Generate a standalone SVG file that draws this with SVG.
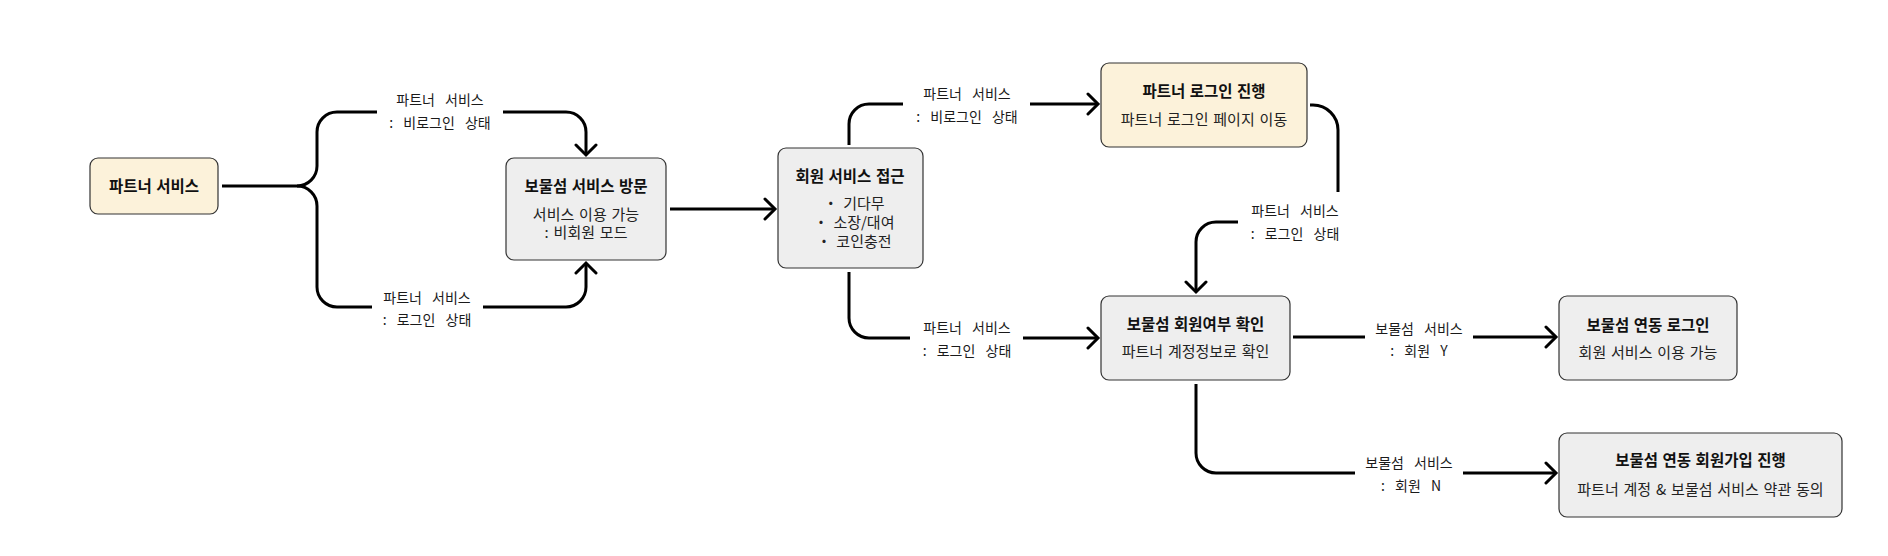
<svg xmlns="http://www.w3.org/2000/svg" width="1888" height="556" viewBox="0 0 1888 556">
<style>
.box{stroke:#333;stroke-width:1.2}
.cream{fill:#FCF2DA}
.grey{fill:#EEEEEE}
.t{font-family:"Noto Sans CJK KR","Noto Sans",sans-serif;font-size:15.5px;font-weight:bold;fill:#111;text-anchor:middle;word-spacing:1px}
.s{font-family:"Noto Sans CJK KR","Noto Sans",sans-serif;font-size:15px;fill:#222;text-anchor:middle;word-spacing:1.5px}
.l{font-family:"Noto Sans CJK KR","Noto Sans",sans-serif;font-size:14px;fill:#1a1a1a;text-anchor:middle;word-spacing:7px}
.c{fill:none;stroke:#000;stroke-width:3}
</style>
<defs>
<marker id="ah" markerUnits="userSpaceOnUse" markerWidth="16" markerHeight="24" viewBox="0 0 16 24" refX="12" refY="12" orient="auto">
<path d="M2,2 L12,12 L2,22" fill="none" stroke="#000" stroke-width="3" stroke-linecap="round" stroke-linejoin="miter"/>
</marker>
</defs>
<rect width="1888" height="556" fill="#fff"/>

<g id="connectors">
<path class="c" d="M222,186 H297 A20,20 0 0 0 317,166 V132 A20,20 0 0 1 337,112 H377"/>
<path class="c" d="M297,186 A20,20 0 0 1 317,206 V287 A20,20 0 0 0 337,307 H372"/>
<path class="c" marker-end="url(#ah)" d="M503,112 H566 A20,20 0 0 1 586,132 V155"/>
<path class="c" marker-end="url(#ah)" d="M483,307 H566 A20,20 0 0 0 586,287 V263"/>
<path class="c" marker-end="url(#ah)" d="M670,209 H775"/>
<path class="c" d="M849,145 V124 A20,20 0 0 1 869,104 H903"/>
<path class="c" marker-end="url(#ah)" d="M1030,104 H1098"/>
<path class="c" d="M1310,105 H1313 A25,25 0 0 1 1338,130 V192"/>
<path class="c" marker-end="url(#ah)" d="M1238,222 H1216 A20,20 0 0 0 1196,242 V292"/>
<path class="c" d="M849,272 V318 A20,20 0 0 0 869,338 H910"/>
<path class="c" marker-end="url(#ah)" d="M1023,338 H1098"/>
<path class="c" d="M1293,337 H1365"/>
<path class="c" marker-end="url(#ah)" d="M1473,337 H1556"/>
<path class="c" d="M1196,384 V453 A20,20 0 0 0 1216,473 H1355"/>
<path class="c" marker-end="url(#ah)" d="M1463,473 H1556"/>
<g id="labels">
<text class="l" x="440" y="105">파트너 서비스</text>
<text class="l" x="440" y="128">: 비로그인 상태</text>
<text class="l" x="427" y="303">파트너 서비스</text>
<text class="l" x="427" y="325">: 로그인 상태</text>
<text class="l" x="967" y="99">파트너 서비스</text>
<text class="l" x="967" y="122">: 비로그인 상태</text>
<text class="l" x="1295" y="216">파트너 서비스</text>
<text class="l" x="1295" y="239">: 로그인 상태</text>
<text class="l" x="967" y="333">파트너 서비스</text>
<text class="l" x="967" y="356">: 로그인 상태</text>
<text class="l" x="1419" y="334">보물섬 서비스</text>
<text class="l" x="1419" y="356">: 회원 Y</text>
<text class="l" x="1409" y="468">보물섬 서비스</text>
<text class="l" x="1411" y="491">: 회원 N</text>
</g>
</g>

<g id="partner-service">
<rect class="box cream" x="90" y="158" width="128" height="56" rx="8"/>
<text class="t" x="154" y="191.5">파트너 서비스</text>
</g>

<g id="visit">
<rect class="box grey" x="506" y="158" width="160" height="102" rx="8"/>
<text class="t" x="586" y="192">보물섬 서비스 방문</text>
<text class="s" x="586" y="220">서비스 이용 가능</text>
<text class="s" x="586" y="238">: 비회원 모드</text>
</g>

<g id="member-access">
<rect class="box grey" x="778" y="148" width="145" height="120" rx="8"/>
<text class="t" x="850" y="182">회원 서비스 접근</text>
<text class="s" x="854" y="209">・ 기다무</text>
<text class="s" x="854" y="228">・ 소장/대여</text>
<text class="s" x="854" y="247">・ 코인충전</text>
</g>

<g id="partner-login">
<rect class="box cream" x="1101" y="63" width="206" height="84" rx="8"/>
<text class="t" x="1204" y="97">파트너 로그인 진행</text>
<text class="s" x="1204" y="125">파트너 로그인 페이지 이동</text>
</g>

<g id="member-check">
<rect class="box grey" x="1101" y="296" width="189" height="84" rx="8"/>
<text class="t" x="1195.5" y="330">보물섬 회원여부 확인</text>
<text class="s" x="1195.5" y="357">파트너 계정정보로 확인</text>
</g>

<g id="linked-login">
<rect class="box grey" x="1559" y="296" width="178" height="84" rx="8"/>
<text class="t" x="1648" y="331">보물섬 연동 로그인</text>
<text class="s" x="1648" y="358">회원 서비스 이용 가능</text>
</g>

<g id="linked-signup">
<rect class="box grey" x="1559" y="433" width="283" height="84" rx="8"/>
<text class="t" x="1700.5" y="466">보물섬 연동 회원가입 진행</text>
<text class="s" x="1700.5" y="495">파트너 계정 &amp; 보물섬 서비스 약관 동의</text>
</g>
</svg>
